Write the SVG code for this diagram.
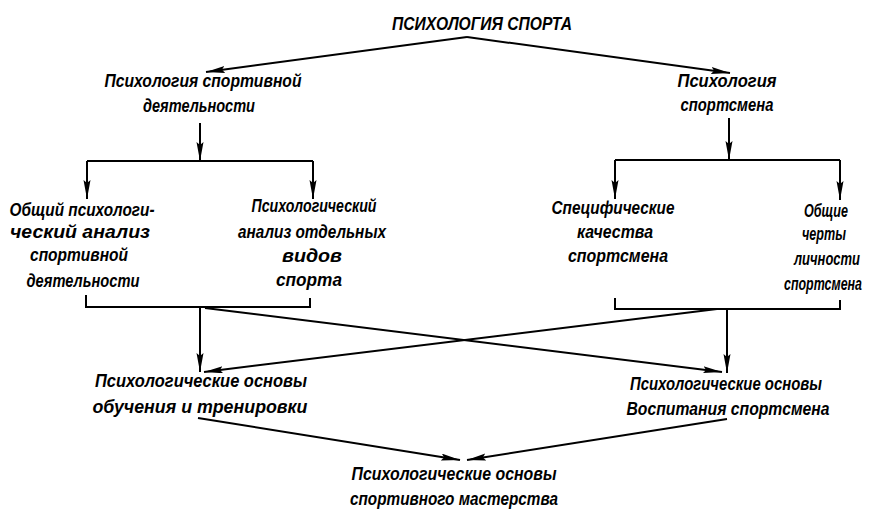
<svg xmlns="http://www.w3.org/2000/svg" width="889" height="509" viewBox="0 0 889 509">
<style>
  text { font-family: "Liberation Sans", "DejaVu Sans", sans-serif; font-style: italic; font-weight: bold; font-size: 19px; fill: #000; text-anchor: middle; }
  .ln { fill: none; stroke: #000; stroke-width: 2; stroke-linejoin: miter; }
  .ar { fill: none; stroke: #000; stroke-width: 2; marker-end: url(#ah); }
</style>
<defs>
  <marker id="ah" markerUnits="userSpaceOnUse" markerWidth="20" markerHeight="8" refX="19" refY="3.5" orient="auto">
    <path d="M0,0 L19,3.5 L0,7 L3,3.5 z" fill="#000"/>
  </marker>
</defs>
<rect width="889" height="509" fill="#fff"/>

<g id="connectors">
  <line class="ar" x1="467" y1="37" x2="206" y2="72"/>
  <line class="ar" x1="467" y1="37" x2="730" y2="73"/>
  <line class="ar" x1="200" y1="123" x2="200" y2="161"/>
  <line class="ln" x1="87" y1="161" x2="313" y2="161"/>
  <line class="ar" x1="87" y1="161" x2="87" y2="199"/>
  <line class="ar" x1="313" y1="161" x2="313" y2="199"/>
  <line class="ar" x1="729" y1="118" x2="729" y2="160"/>
  <line class="ln" x1="615" y1="160" x2="840" y2="160"/>
  <line class="ar" x1="615" y1="160" x2="615" y2="199"/>
  <line class="ar" x1="840" y1="160" x2="840" y2="200"/>
  <polyline class="ln" points="86,295 86,307 310,307 310,298"/>
  <polyline class="ln" points="615,298 615,309 840,309 840,300"/>
  <line class="ar" x1="200" y1="307" x2="200" y2="372"/>
  <line class="ar" x1="727" y1="309" x2="727" y2="373"/>
  <line class="ar" x1="205" y1="308" x2="722" y2="372"/>
  <line class="ar" x1="717" y1="309" x2="204" y2="372"/>
  <line class="ar" x1="198" y1="418" x2="460" y2="460"/>
  <line class="ar" x1="727" y1="419" x2="467" y2="460"/>
</g>

<g id="root"><text x="482" y="30" textLength="180" lengthAdjust="spacingAndGlyphs">ПСИХОЛОГИЯ  СПОРТА</text></g>
<g id="activity">
  <text x="203" y="87" textLength="197" lengthAdjust="spacingAndGlyphs">Психология  спортивной</text>
  <text x="199" y="112" textLength="112" lengthAdjust="spacingAndGlyphs">деятельности</text>
</g>
<g id="athlete">
  <text x="727" y="87" textLength="99" lengthAdjust="spacingAndGlyphs">Психология</text>
  <text x="727" y="111" textLength="93" lengthAdjust="spacingAndGlyphs">спортсмена</text>
</g>
<g id="general-analysis">
  <text x="82" y="216" textLength="145" lengthAdjust="spacingAndGlyphs">Общий  психологи-</text>
  <text x="80" y="238" textLength="140" lengthAdjust="spacingAndGlyphs">ческий   анализ</text>
  <text x="79" y="261" textLength="98" lengthAdjust="spacingAndGlyphs">спортивной</text>
  <text x="83" y="287" textLength="113" lengthAdjust="spacingAndGlyphs">деятельности</text>
</g>
<g id="sport-analysis">
  <text x="314" y="212" textLength="125" lengthAdjust="spacingAndGlyphs">Психологический</text>
  <text x="312" y="238" textLength="148" lengthAdjust="spacingAndGlyphs">анализ  отдельных</text>
  <text x="312" y="262" textLength="60" lengthAdjust="spacingAndGlyphs">видов</text>
  <text x="309" y="286" textLength="66" lengthAdjust="spacingAndGlyphs">спорта</text>
</g>
<g id="specific-qualities">
  <text x="613" y="214" textLength="123" lengthAdjust="spacingAndGlyphs">Специфические</text>
  <text x="615" y="238" textLength="76" lengthAdjust="spacingAndGlyphs">качества</text>
  <text x="618" y="262" textLength="100" lengthAdjust="spacingAndGlyphs">спортсмена</text>
</g>
<g id="personality">
  <text x="826" y="217" textLength="44" lengthAdjust="spacingAndGlyphs">Общие</text>
  <text x="824" y="240" textLength="44" lengthAdjust="spacingAndGlyphs">черты</text>
  <text x="827" y="265" textLength="66" lengthAdjust="spacingAndGlyphs">личности</text>
  <text x="823" y="290" textLength="78" lengthAdjust="spacingAndGlyphs">спортсмена</text>
</g>
<g id="training">
  <text x="201" y="387" textLength="212" lengthAdjust="spacingAndGlyphs">Психологические  основы</text>
  <text x="200" y="413" textLength="215" lengthAdjust="spacingAndGlyphs">обучения  и  тренировки</text>
</g>
<g id="upbringing">
  <text x="726" y="390" textLength="192" lengthAdjust="spacingAndGlyphs">Психологические  основы</text>
  <text x="728" y="415" textLength="203" lengthAdjust="spacingAndGlyphs">Воспитания  спортсмена</text>
</g>
<g id="mastery">
  <text x="454" y="480" textLength="205" lengthAdjust="spacingAndGlyphs">Психологические  основы</text>
  <text x="454" y="505" textLength="208" lengthAdjust="spacingAndGlyphs">спортивного  мастерства</text>
</g>
</svg>
